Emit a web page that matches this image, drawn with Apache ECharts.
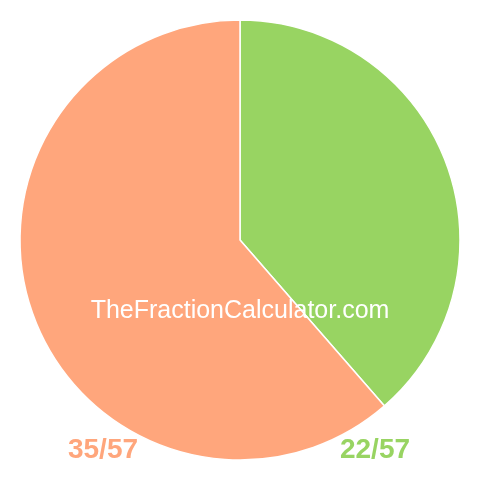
<!DOCTYPE html>
<html><head><meta charset="utf-8">
<script src="https://cdn.jsdelivr.net/npm/echarts@6/dist/echarts.min.js"></script>
<style>html,body{margin:0;padding:0;background:#fff}#c{width:480px;height:480px}</style>
</head><body><div id="c"></div>
<script>
const categories = ['22/57', '35/57'];
const values = [22, 35];
const colors = ['#98d462', '#ffa67c'];
const watermark = 'TheFractionCalculator.com';

const chart = echarts.init(document.getElementById('c'), null, {renderer: 'canvas'});
chart.setOption({
  animation: false,
  series: [{
    type: 'pie',
    center: [240, 240],
    radius: [0, 220],
    startAngle: 90,
    clockwise: true,
    label: {show: false},
    labelLine: {show: false},
    itemStyle: {borderColor: '#fff', borderWidth: 1.5},
    emphasis: {disabled: true},
    data: categories.map((c, i) => ({name: c, value: values[i], itemStyle: {color: colors[i]}}))
  }],
  graphic: [
    {type: 'text', z: 100, x: 240, y: 311, style: {text: watermark, fill: '#fff', font: '25px "Liberation Sans", Arial, sans-serif', align: 'center', verticalAlign: 'middle'}},
    {type: 'text', z: 100, x: 103, y: 450, style: {text: categories[1], fill: colors[1], font: 'bold 28px "Liberation Sans", Arial, sans-serif', align: 'center', verticalAlign: 'middle'}},
    {type: 'text', z: 100, x: 375, y: 450, style: {text: categories[0], fill: colors[0], font: 'bold 28px "Liberation Sans", Arial, sans-serif', align: 'center', verticalAlign: 'middle'}}
  ]
});
</script></body></html>
